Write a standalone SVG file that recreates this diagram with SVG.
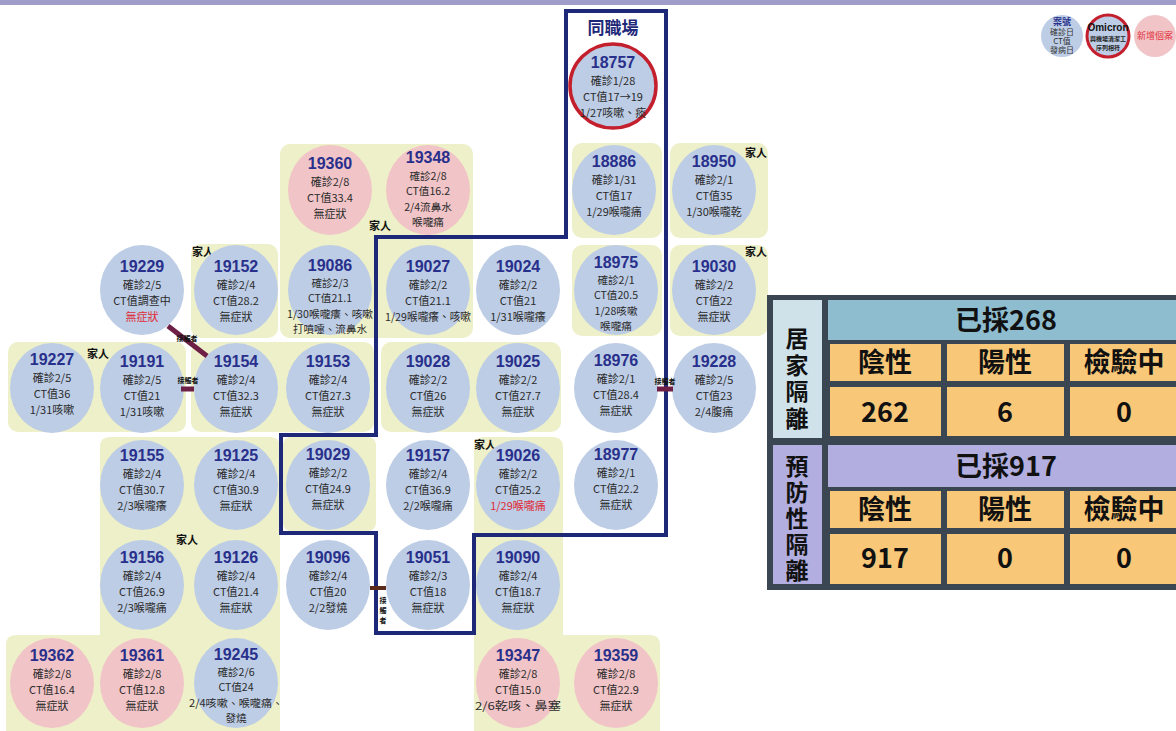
<svg xmlns="http://www.w3.org/2000/svg" width="1176" height="731" viewBox="0 0 1176 731">
<style>
text{font-family:"Noto Sans CJK TC","Noto Sans CJK SC",sans-serif;text-anchor:middle}
.b{fill:#bdcde5}
.p{fill:#f1c4c7}
.g{fill:#eef0c9}
.num{font-family:"Liberation Sans",Arial,sans-serif;font-size:16px;font-weight:bold;fill:#28308c}
.t{font-size:11px;fill:#2b2b2b}
.s{font-size:10.6px}
.r{fill:#e02a36}
.fam{font-size:11px;font-weight:bold;fill:#111}
.ct{font-size:7px;font-weight:bold;fill:#111}
.lk{stroke:#6d1f45;stroke-width:5;fill:none}
.tb{font-size:27px;font-weight:bold;fill:#111}
.tv{font-size:23px;font-weight:bold;fill:#111;writing-mode:vertical-rl}
.o{fill:#f8c878}
.lv{fill:#b2aee0}
</style>
<rect x="0" y="0" width="1176" height="731" fill="#ffffff"/>
<rect x="0" y="0" width="1176" height="5" fill="#a09dc8"/>

<g id="groups">
<rect class="g" x="280" y="144" width="193" height="194" rx="10"/>
<rect class="g" x="191" y="244" width="87" height="94" rx="10"/>
<rect class="g" x="191" y="342" width="183" height="90" rx="10"/>
<rect class="g" x="8" y="342" width="178" height="90" rx="10"/>
<rect class="g" x="381" y="342" width="180" height="90" rx="10"/>
<path class="g" d="M110,437 H270 Q280,437 280,447 V731 H6 V645 Q6,635 16,635 H100 V447 Q100,437 110,437 Z"/>
<rect class="g" x="283" y="437" width="93" height="94" rx="8"/>
<path class="g" d="M484,437 H553 Q563,437 563,447 V635 H650 Q660,635 660,645 V731 H474 V447 Q474,437 484,437 Z"/>
<rect class="g" x="572" y="143" width="90" height="95" rx="10"/>
<rect class="g" x="670" y="143" width="98" height="95" rx="10"/>
<rect class="g" x="572" y="245" width="90" height="91" rx="10"/>
<rect class="g" x="670" y="245" width="98" height="91" rx="10"/>
<text class="fam" x="380" y="230">家人</text>
<text class="fam" x="203" y="256">家人</text>
<text class="fam" x="98" y="358">家人</text>
<text class="fam" x="756" y="157">家人</text>
<text class="fam" x="756" y="256">家人</text>
<text class="fam" x="485" y="449">家人</text>
<text class="fam" x="187" y="544">家人</text>
</g>

<g id="nodes">
<g id="n18757"><ellipse cx="613" cy="86" rx="43" ry="42" class="b" stroke="#c41f2d" stroke-width="3.5"/><text class="num" x="613" y="68">18757</text><text class="t" x="613" y="85">確診1/28</text><text class="t" x="613" y="101">CT值17→19</text><text class="t" x="613" y="117">1/27咳嗽、痰</text></g>

<g id="n19360"><ellipse cx="330" cy="190" rx="42" ry="45" class="p"/><text class="num" x="330" y="169">19360</text><text class="t" x="330" y="186">確診2/8</text><text class="t" x="330" y="202">CT值33.4</text><text class="t" x="330" y="218">無症狀</text></g>
<g id="n19348"><ellipse cx="428" cy="190" rx="42" ry="45" class="p"/><text class="num" x="428" y="163">19348</text><text class="t s" x="428" y="179.5">確診2/8</text><text class="t s" x="428" y="195">CT值16.2</text><text class="t s" x="428" y="210.5">2/4流鼻水</text><text class="t s" x="428" y="226">喉嚨痛</text></g>
<g id="n18886"><ellipse cx="614" cy="190" rx="42" ry="45" class="b"/><text class="num" x="614" y="167">18886</text><text class="t" x="614" y="184">確診1/31</text><text class="t" x="614" y="200">CT值17</text><text class="t" x="614" y="216">1/29喉嚨痛</text></g>
<g id="n18950"><ellipse cx="714" cy="190" rx="42" ry="45" class="b"/><text class="num" x="714" y="167">18950</text><text class="t" x="714" y="184">確診2/1</text><text class="t" x="714" y="200">CT值35</text><text class="t" x="714" y="216">1/30喉嚨乾</text></g>

<g id="n19229"><ellipse cx="142" cy="290" rx="42" ry="45" class="b"/><text class="num" x="142" y="272">19229</text><text class="t" x="142" y="289">確診2/5</text><text class="t" x="142" y="305">CT值調查中</text><text class="t r" x="142" y="321">無症狀</text></g>
<g id="n19152"><ellipse cx="236" cy="290" rx="42" ry="45" class="b"/><text class="num" x="236" y="272">19152</text><text class="t" x="236" y="289">確診2/4</text><text class="t" x="236" y="305">CT值28.2</text><text class="t" x="236" y="321">無症狀</text></g>
<g id="n19086"><ellipse cx="330" cy="290" rx="42" ry="45" class="b"/><text class="num" x="330" y="271">19086</text><text class="t s" x="330" y="287">確診2/3</text><text class="t s" x="330" y="302.4">CT值21.1</text><text class="t s" x="330" y="317.8" textLength="86" lengthAdjust="spacingAndGlyphs">1/30喉嚨癢、咳嗽</text><text class="t s" x="330" y="333.2">打噴嚏、流鼻水</text></g>
<g id="n19027"><ellipse cx="428" cy="290" rx="42" ry="45" class="b"/><text class="num" x="428" y="272">19027</text><text class="t" x="428" y="289">確診2/2</text><text class="t" x="428" y="305">CT值21.1</text><text class="t" x="428" y="321" textLength="86" lengthAdjust="spacingAndGlyphs">1/29喉嚨癢、咳嗽</text></g>
<g id="n19024"><ellipse cx="518" cy="290" rx="42" ry="45" class="b"/><text class="num" x="518" y="272">19024</text><text class="t" x="518" y="289">確診2/2</text><text class="t" x="518" y="305">CT值21</text><text class="t" x="518" y="321">1/31喉嚨癢</text></g>
<g id="n18975"><ellipse cx="616" cy="290" rx="42" ry="45" class="b"/><text class="num" x="616" y="268">18975</text><text class="t s" x="616" y="284">確診2/1</text><text class="t s" x="616" y="299.4">CT值20.5</text><text class="t s" x="616" y="314.8">1/28咳嗽</text><text class="t s" x="616" y="330.2">喉嚨痛</text></g>
<g id="n19030"><ellipse cx="714" cy="290" rx="42" ry="45" class="b"/><text class="num" x="714" y="272">19030</text><text class="t" x="714" y="289">確診2/2</text><text class="t" x="714" y="305">CT值22</text><text class="t" x="714" y="321">無症狀</text></g>

<g id="n19227"><ellipse cx="52" cy="388" rx="42" ry="45" class="b"/><text class="num" x="52" y="365">19227</text><text class="t" x="52" y="382">確診2/5</text><text class="t" x="52" y="398">CT值36</text><text class="t" x="52" y="414">1/31咳嗽</text></g>
<g id="n19191"><ellipse cx="142" cy="388" rx="42" ry="45" class="b"/><text class="num" x="142" y="367">19191</text><text class="t" x="142" y="384">確診2/5</text><text class="t" x="142" y="400">CT值21</text><text class="t" x="142" y="416">1/31咳嗽</text></g>
<g id="n19154"><ellipse cx="236" cy="388" rx="42" ry="45" class="b"/><text class="num" x="236" y="367">19154</text><text class="t" x="236" y="384">確診2/4</text><text class="t" x="236" y="400">CT值32.3</text><text class="t" x="236" y="416">無症狀</text></g>
<g id="n19153"><ellipse cx="328" cy="388" rx="42" ry="45" class="b"/><text class="num" x="328" y="367">19153</text><text class="t" x="328" y="384">確診2/4</text><text class="t" x="328" y="400">CT值27.3</text><text class="t" x="328" y="416">無症狀</text></g>
<g id="n19028"><ellipse cx="428" cy="388" rx="42" ry="45" class="b"/><text class="num" x="428" y="367">19028</text><text class="t" x="428" y="384">確診2/2</text><text class="t" x="428" y="400">CT值26</text><text class="t" x="428" y="416">無症狀</text></g>
<g id="n19025"><ellipse cx="518" cy="388" rx="42" ry="45" class="b"/><text class="num" x="518" y="367">19025</text><text class="t" x="518" y="384">確診2/2</text><text class="t" x="518" y="400">CT值27.7</text><text class="t" x="518" y="416">無症狀</text></g>
<g id="n18976"><ellipse cx="616" cy="388" rx="42" ry="45" class="b"/><text class="num" x="616" y="366">18976</text><text class="t" x="616" y="383">確診2/1</text><text class="t" x="616" y="399">CT值28.4</text><text class="t" x="616" y="415">無症狀</text></g>
<g id="n19228"><ellipse cx="714" cy="388" rx="42" ry="45" class="b"/><text class="num" x="714" y="367">19228</text><text class="t" x="714" y="384">確診2/5</text><text class="t" x="714" y="400">CT值23</text><text class="t" x="714" y="416">2/4腹痛</text></g>

<g id="n19155"><ellipse cx="142" cy="485" rx="42" ry="45" class="b"/><text class="num" x="142" y="461">19155</text><text class="t" x="142" y="478">確診2/4</text><text class="t" x="142" y="494">CT值30.7</text><text class="t" x="142" y="510">2/3喉嚨癢</text></g>
<g id="n19125"><ellipse cx="236" cy="485" rx="42" ry="45" class="b"/><text class="num" x="236" y="461">19125</text><text class="t" x="236" y="478">確診2/4</text><text class="t" x="236" y="494">CT值30.9</text><text class="t" x="236" y="510">無症狀</text></g>
<g id="n19029"><ellipse cx="328" cy="485" rx="42" ry="45" class="b"/><text class="num" x="328" y="460">19029</text><text class="t" x="328" y="477">確診2/2</text><text class="t" x="328" y="493">CT值24.9</text><text class="t" x="328" y="509">無症狀</text></g>
<g id="n19157"><ellipse cx="428" cy="485" rx="42" ry="45" class="b"/><text class="num" x="428" y="461">19157</text><text class="t" x="428" y="478">確診2/4</text><text class="t" x="428" y="494">CT值36.9</text><text class="t" x="428" y="510">2/2喉嚨痛</text></g>
<g id="n19026"><ellipse cx="518" cy="485" rx="42" ry="45" class="b"/><text class="num" x="518" y="461">19026</text><text class="t" x="518" y="478">確診2/2</text><text class="t" x="518" y="494">CT值25.2</text><text class="t r" x="518" y="510">1/29喉嚨痛</text></g>
<g id="n18977"><ellipse cx="616" cy="485" rx="42" ry="45" class="b"/><text class="num" x="616" y="460">18977</text><text class="t" x="616" y="477">確診2/1</text><text class="t" x="616" y="493">CT值22.2</text><text class="t" x="616" y="509">無症狀</text></g>

<g id="n19156"><ellipse cx="142" cy="585" rx="42" ry="45" class="b"/><text class="num" x="142" y="563">19156</text><text class="t" x="142" y="580">確診2/4</text><text class="t" x="142" y="596">CT值26.9</text><text class="t" x="142" y="612">2/3喉嚨痛</text></g>
<g id="n19126"><ellipse cx="236" cy="585" rx="42" ry="45" class="b"/><text class="num" x="236" y="563">19126</text><text class="t" x="236" y="580">確診2/4</text><text class="t" x="236" y="596">CT值21.4</text><text class="t" x="236" y="612">無症狀</text></g>
<g id="n19096"><ellipse cx="328" cy="585" rx="42" ry="45" class="b"/><text class="num" x="328" y="563">19096</text><text class="t" x="328" y="580">確診2/4</text><text class="t" x="328" y="596">CT值20</text><text class="t" x="328" y="612">2/2發燒</text></g>
<g id="n19051"><ellipse cx="428" cy="585" rx="42" ry="45" class="b"/><text class="num" x="428" y="563">19051</text><text class="t" x="428" y="580">確診2/3</text><text class="t" x="428" y="596">CT值18</text><text class="t" x="428" y="612">無症狀</text></g>
<g id="n19090"><ellipse cx="518" cy="585" rx="42" ry="45" class="b"/><text class="num" x="518" y="563">19090</text><text class="t" x="518" y="580">確診2/4</text><text class="t" x="518" y="596">CT值18.7</text><text class="t" x="518" y="612">無症狀</text></g>

<g id="n19362"><ellipse cx="52" cy="683" rx="42" ry="45" class="p"/><text class="num" x="52" y="661">19362</text><text class="t" x="52" y="678">確診2/8</text><text class="t" x="52" y="694">CT值16.4</text><text class="t" x="52" y="710">無症狀</text></g>
<g id="n19361"><ellipse cx="142" cy="683" rx="42" ry="45" class="p"/><text class="num" x="142" y="661">19361</text><text class="t" x="142" y="678">確診2/8</text><text class="t" x="142" y="694">CT值12.8</text><text class="t" x="142" y="710">無症狀</text></g>
<g id="n19245"><ellipse cx="236" cy="683" rx="42" ry="45" class="b"/><text class="num" x="236" y="660">19245</text><text class="t s" x="236" y="676">確診2/6</text><text class="t s" x="236" y="691.4">CT值24</text><text class="t s" x="236" y="706.8" textLength="94" lengthAdjust="spacingAndGlyphs">2/4咳嗽、喉嚨痛、</text><text class="t s" x="236" y="722.2">發燒</text></g>
<g id="n19347"><ellipse cx="518" cy="683" rx="42" ry="45" class="p"/><text class="num" x="518" y="661">19347</text><text class="t" x="518" y="678">確診2/8</text><text class="t" x="518" y="694">CT值15.0</text><text class="t" x="518" y="710" textLength="86" lengthAdjust="spacingAndGlyphs">2/6乾咳、鼻塞</text></g>
<g id="n19359"><ellipse cx="616" cy="683" rx="42" ry="45" class="p"/><text class="num" x="616" y="661">19359</text><text class="t" x="616" y="678">確診2/8</text><text class="t" x="616" y="694">CT值22.9</text><text class="t" x="616" y="710">無症狀</text></g>
</g>

<g id="workplace">
<path d="M566,11 H666 V535 H474 V633 H376 V533 H281 V435 H376 V237 H566 Z" fill="none" stroke="#1e2878" stroke-width="4"/>
<text x="613" y="34" style="font-size:17px;font-weight:bold;fill:#1e2878">同職場</text>
</g>

<g id="connectors">
<line class="lk" x1="168" y1="326" x2="207" y2="356" stroke-width="4"/>
<text class="ct" x="187" y="341">接觸者</text>
<line class="lk" x1="181" y1="389" x2="194" y2="389"/>
<text class="ct" x="188" y="383">接觸者</text>
<line class="lk" x1="657" y1="389" x2="673" y2="389"/>
<text class="ct" x="665" y="384">接觸者</text>
<line x1="370" y1="588" x2="386" y2="588" stroke="#5a2a1a" stroke-width="4"/>
<text class="ct" x="383" y="612" style="writing-mode:vertical-rl;letter-spacing:3px">接觸者</text>
</g>

<g id="legend">
<circle cx="1062" cy="36" r="21" class="b"/>
<text x="1062" y="25" style="font-size:9px;font-weight:bold;fill:#28308c">案號</text>
<text x="1062" y="35" style="font-size:8px;fill:#333">確診日</text>
<text x="1062" y="44" style="font-size:8px;fill:#333">CT值</text>
<text x="1062" y="53" style="font-size:8px;fill:#333">發病日</text>
<circle cx="1108" cy="36" r="21" class="b" stroke="#c41f2d" stroke-width="3"/>
<text x="1108" y="31" style="font-family:'Liberation Sans',Arial,sans-serif;font-size:10px;font-weight:bold;fill:#111">Omicron</text>
<text x="1108" y="41" style="font-size:6px;font-weight:bold;fill:#222">與機場清潔工</text>
<text x="1108" y="50" style="font-size:6px;font-weight:bold;fill:#222">序列相符</text>
<circle cx="1155" cy="36" r="21" class="p"/>
<text x="1155" y="39" style="font-size:9px;fill:#e2343f">新增個案</text>
</g>

<g id="table">
<rect x="767" y="295" width="409" height="295" fill="#3a4652"/>
<rect x="773" y="300" width="49" height="138" fill="#cfe2ea"/>
<rect x="828" y="300" width="348" height="40" fill="#8fbdd0"/>
<rect class="o" x="830" y="344" width="111" height="37"/>
<rect class="o" x="947" y="344" width="117" height="37"/>
<rect class="o" x="1070" y="344" width="106" height="37"/>
<rect class="o" x="830" y="387" width="111" height="49"/>
<rect class="o" x="947" y="387" width="117" height="49"/>
<rect class="o" x="1070" y="387" width="106" height="49"/>
<rect class="lv" x="773" y="445" width="49" height="139"/>
<rect class="lv" x="828" y="445" width="348" height="42"/>
<rect class="o" x="830" y="491" width="111" height="37"/>
<rect class="o" x="947" y="491" width="117" height="37"/>
<rect class="o" x="1070" y="491" width="106" height="37"/>
<rect class="o" x="830" y="534" width="111" height="50"/>
<rect class="o" x="947" y="534" width="117" height="50"/>
<rect class="o" x="1070" y="534" width="106" height="50"/>
<text class="tv" x="797" y="380" style="letter-spacing:3.7px">居家隔離</text>
<text class="tv" x="797" y="520" style="letter-spacing:3px">預防性隔離</text>
<text class="tb" x="1006" y="330">已採268</text>
<text class="tb" x="885" y="372">陰性</text>
<text class="tb" x="1005" y="372">陽性</text>
<text class="tb" x="1124" y="372">檢驗中</text>
<text class="tb" x="885" y="422">262</text>
<text class="tb" x="1005" y="422">6</text>
<text class="tb" x="1124" y="422">0</text>
<text class="tb" x="1006" y="476">已採917</text>
<text class="tb" x="885" y="519">陰性</text>
<text class="tb" x="1005" y="519">陽性</text>
<text class="tb" x="1124" y="519">檢驗中</text>
<text class="tb" x="885" y="568">917</text>
<text class="tb" x="1005" y="568">0</text>
<text class="tb" x="1124" y="568">0</text>
</g>
</svg>
